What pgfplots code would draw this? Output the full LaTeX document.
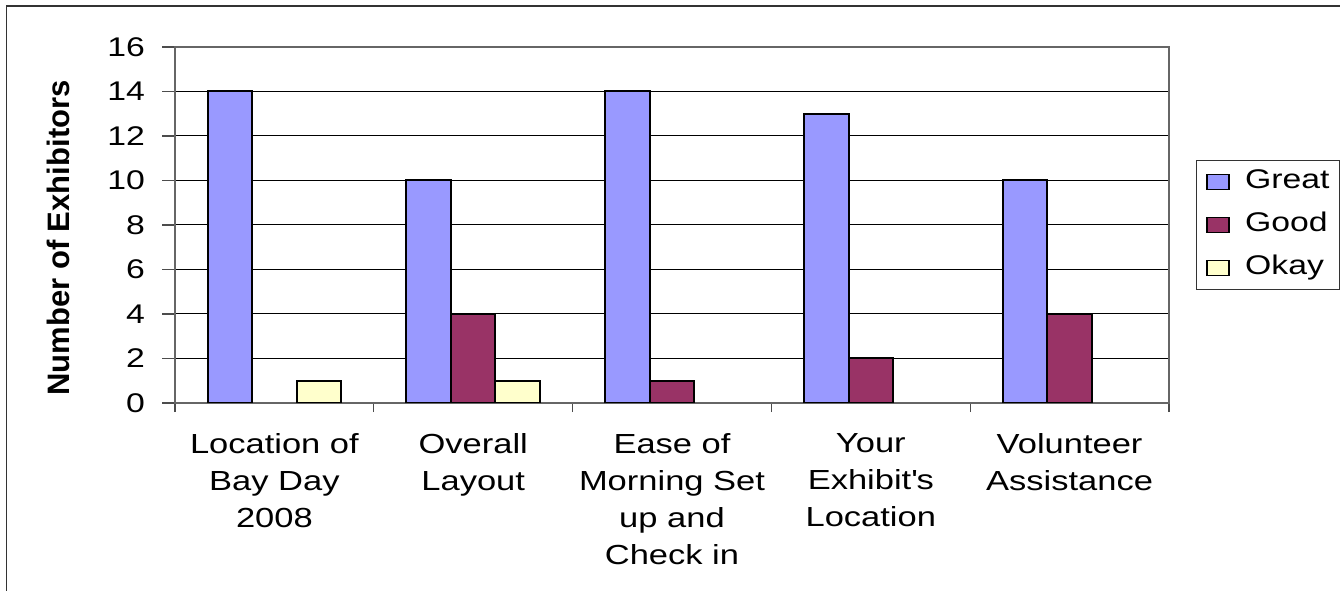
\documentclass[border=0pt]{standalone}
\usepackage{fontspec}
\setmainfont{Liberation Sans}[FakeStretch=1.25]
\newfontfamily\ylfont{Liberation Sans}
\usepackage{pgfplots}
\pgfplotsset{compat=1.18}
\definecolor{cgreat}{HTML}{9999FF}
\definecolor{cgood}{HTML}{993366}
\definecolor{cokay}{HTML}{FFFFCC}
\newcommand{\tf}{\fontsize{13.5bp}{18bp}\selectfont}
\newcommand{\xf}{\fontsize{13.8bp}{18.5bp}\selectfont}
\begin{document}
\begin{tikzpicture}
\path[use as bounding box] (0,0) rectangle (670bp,295.5bp);
\draw[black!80, line width=0.6bp] (3.4bp,0) -- (3.4bp,292.5bp) -- (670bp,292.5bp);
\begin{axis}[
  at={(87.5bp,94bp)}, anchor=south west,
  width=497bp, height=178bp, scale only axis,
  xmin=-0.5, xmax=4.5, ymin=0, ymax=16,
  ytick={0,2,...,16},
  xtick={0,1,2,3,4},
  xticklabels={{Location of\\Bay Day\\2008},{Overall\\Layout},{Ease of\\Morning Set\\up and\\Check in},{Your\\Exhibit\textquotesingle s\\Location},{Volunteer\\Assistance}},
  major x tick style={draw=none},
  minor xtick={-0.5,0.5,1.5,2.5,3.5,4.5},
  minor tick length=4.5bp,
  major tick length=6.5bp,
  tick align=outside,
  xtick pos=bottom, ytick pos=left,
  tick style={black!70, line width=0.6bp},
  ymajorgrids,
  grid style={black, line width=0.5bp},
  axis line style={black!60, line width=0.7bp},
  /pgf/number format/assume math mode=true,
  tick label style={font=\tf},
  xticklabel style={font=\xf, align=center, anchor=north, yshift=-5.3bp},
  yticklabel style={xshift=-5bp},
  ylabel={\ylfont\bfseries\fontsize{15.5bp}{18bp}\selectfont Number of Exhibitors},
  ylabel style={at={(axis description cs:-0.1177,0.4635)}, anchor=center},
  ybar, bar width=0.224,
  legend style={at={(axis description cs:1.027,0.6826)}, anchor=north west,
    draw=black!80, line width=0.5bp, font=\tf,
    inner xsep=5bp, inner ysep=4.5bp, row sep=9bp,
    nodes={inner sep=0pt, text height=9.7bp, text depth=2.8bp},
    /tikz/every odd column/.append style={column sep=7.5bp},
    cells={anchor=west}},
  legend image code/.code={\draw[#1, line width=0.9bp] (0bp,-3.75bp) rectangle (11bp,3.75bp);},
]
\addplot[fill=cgreat, draw=black, line width=1bp, bar shift=-0.224] coordinates {(0,14) (1,10) (2,14) (3,13) (4,10)};
\addplot[fill=cgood, draw=black, line width=1bp, bar shift=0] coordinates {(1,4) (2,1) (3,2) (4,4)};
\addplot[fill=cokay, draw=black, line width=1bp, bar shift=0.224] coordinates {(0,1) (1,1)};
\legend{Great,Good,Okay}
\end{axis}
\end{tikzpicture}
\end{document}
